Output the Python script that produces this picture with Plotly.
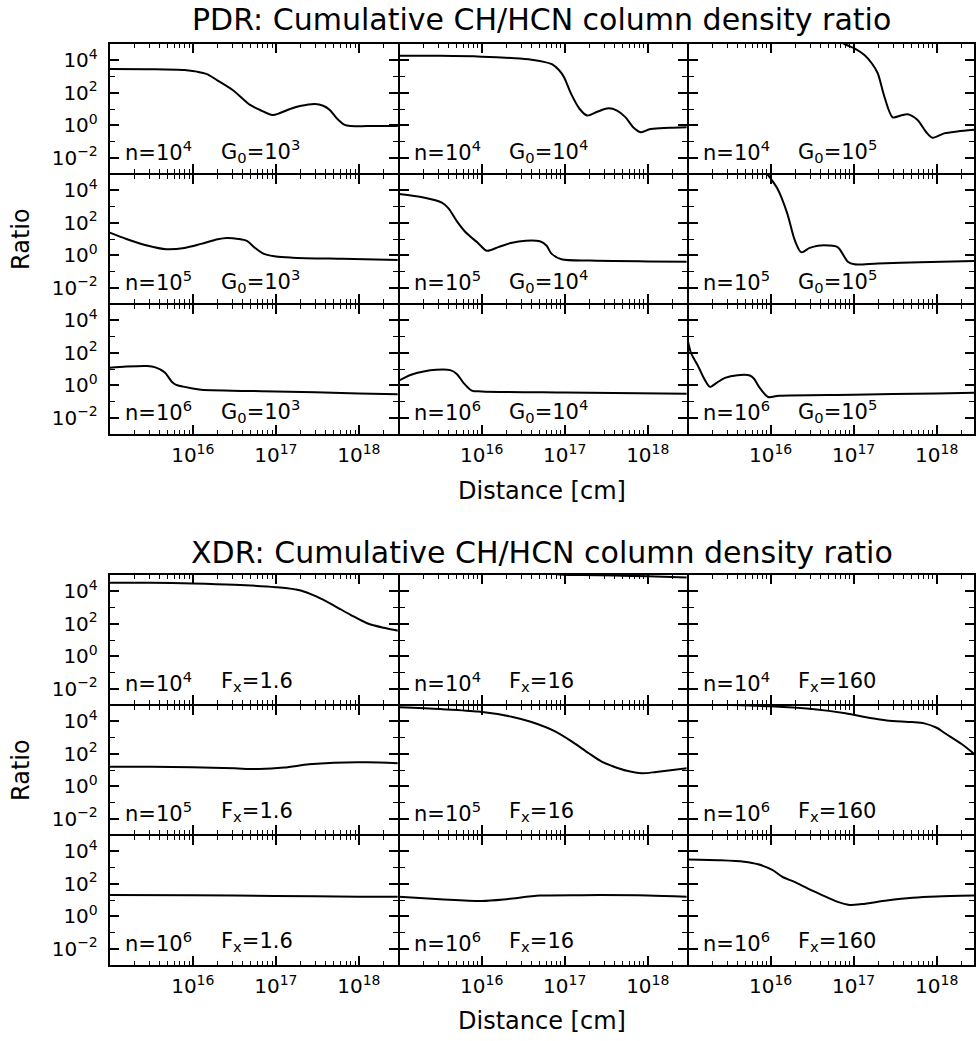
import numpy as np
import plotly.graph_objects as go

W, H = 976, 1041
FONT = "DejaVu Sans"

# ---------------- data (log10 distance [cm], log10 ratio) ----------------
# PDR models
pdr_n4_g3_logd = [15.0, 15.5, 15.9, 16.05, 16.17, 16.29, 16.48, 16.69, 16.81, 16.96, 17.05, 17.17, 17.29, 17.47, 17.57, 17.65, 17.73, 17.83, 17.9, 18.1, 18.48]
pdr_n4_g3_logr = [3.46, 3.45, 3.40, 3.3, 3.15, 2.78, 2.17, 1.25, 0.94, 0.63, 0.75, 1.0, 1.18, 1.31, 1.2, 0.94, 0.45, 0.02, -0.05, -0.05, -0.05]

pdr_n4_g4_logd = [15.0, 15.5, 16.0, 16.4, 16.6, 16.75, 16.85, 16.93, 16.99, 17.08, 17.18, 17.27, 17.4, 17.53, 17.63, 17.73, 17.83, 17.92, 18.02, 18.15, 18.3, 18.48]
pdr_n4_g4_logr = [4.28, 4.27, 4.22, 4.12, 4.03, 3.9, 3.75, 3.4, 2.97, 1.9, 1.0, 0.6, 0.85, 1.04, 0.9, 0.5, -0.15, -0.43, -0.25, -0.18, -0.15, -0.12]

pdr_n4_g5_logd = [15.0, 15.5, 16.0, 16.5, 16.89, 17.02, 17.13, 17.22, 17.29, 17.37, 17.47, 17.57, 17.65, 17.77, 17.87, 17.95, 18.09, 18.25, 18.45]
pdr_n4_g5_logr = [7.5, 7.2, 6.8, 6.0, 5.0, 4.7, 4.32, 3.8, 3.2, 1.76, 0.49, 0.6, 0.67, 0.32, -0.4, -0.77, -0.5, -0.38, -0.28]

pdr_n5_g3_logd = [15.0, 15.2, 15.45, 15.68, 15.9, 16.1, 16.3, 16.41, 16.55, 16.65, 16.75, 16.85, 17.0, 17.2, 17.8, 18.48]
pdr_n5_g3_logr = [1.39, 1.0, 0.6, 0.37, 0.45, 0.7, 0.98, 1.06, 1.0, 0.88, 0.45, 0.1, -0.08, -0.15, -0.22, -0.29]

pdr_n5_g4_logd = [15.0, 15.3, 15.52, 15.6, 15.7, 15.8, 15.96, 16.06, 16.2, 16.35, 16.53, 16.7, 16.78, 16.84, 16.96, 17.3, 18.0, 18.48]
pdr_n5_g4_logr = [3.77, 3.55, 3.24, 2.89, 2.1, 1.45, 0.73, 0.28, 0.5, 0.75, 0.9, 0.86, 0.6, 0.1, -0.25, -0.33, -0.38, -0.4]

pdr_n5_g5_logd = [15.0, 15.5, 15.8, 15.96, 16.08, 16.2, 16.29, 16.37, 16.47, 16.57, 16.7, 16.81, 16.93, 17.01, 17.29, 17.8, 18.45]
pdr_n5_g5_logr = [7.5, 7.0, 6.0, 5.0, 4.12, 2.58, 0.94, 0.18, 0.45, 0.59, 0.6, 0.49, -0.4, -0.56, -0.5, -0.43, -0.35]

pdr_n6_g3_logd = [15.0, 15.2, 15.45, 15.55, 15.66, 15.75, 15.8, 16.0, 16.1, 17.0, 18.0, 18.48]
pdr_n6_g3_logr = [1.08, 1.15, 1.18, 1.1, 0.8, 0.2, 0.02, -0.2, -0.27, -0.38, -0.5, -0.56]

pdr_n6_g4_logd = [15.0, 15.15, 15.3, 15.45, 15.62, 15.7, 15.78, 15.88, 16.0, 17.0, 18.48]
pdr_n6_g4_logr = [0.28, 0.65, 0.85, 0.95, 0.93, 0.7, 0.15, -0.33, -0.38, -0.45, -0.52]

pdr_n6_g5_logd = [15.0, 15.04, 15.08, 15.12, 15.2, 15.27, 15.35, 15.45, 15.6, 15.75, 15.8, 15.86, 15.97, 16.1, 17.0, 18.0, 18.45]
pdr_n6_g5_logr = [2.8, 2.0, 1.6, 1.25, 0.4, -0.1, 0.15, 0.45, 0.62, 0.6, 0.4, -0.1, -0.72, -0.64, -0.58, -0.5, -0.46]

# XDR models
xdr_n4_f1_logd = [15.0, 15.5, 16.0, 16.5, 17.0, 17.3, 17.5, 17.7, 17.9, 18.1, 18.3, 18.48]
xdr_n4_f1_logr = [4.53, 4.52, 4.48, 4.4, 4.25, 4.05, 3.65, 3.12, 2.55, 2.03, 1.75, 1.57]

xdr_n4_f16_logd = [15.0, 16.0, 16.7, 16.9, 17.2, 17.6, 18.0, 18.48]
xdr_n4_f16_logr = [6.0, 5.7, 5.3, 5.05, 5.0, 4.97, 4.92, 4.85]

xdr_n4_f160_logd = [15.0, 16.0, 17.0, 18.0, 18.45]
xdr_n4_f160_logr = [7.0, 6.9, 6.7, 6.4, 6.0]

xdr_n5_f1_logd = [15.0, 15.5, 16.0, 16.5, 16.8, 17.1, 17.4, 17.7, 18.1, 18.48]
xdr_n5_f1_logr = [1.2, 1.2, 1.17, 1.1, 1.06, 1.15, 1.35, 1.45, 1.47, 1.41]

xdr_n5_f16_logd = [15.0, 15.5, 15.96, 16.36, 16.6, 16.89, 17.1, 17.29, 17.45, 17.57, 17.75, 17.93, 18.1, 18.3, 18.48]
xdr_n5_f16_logr = [4.86, 4.75, 4.6, 4.28, 3.95, 3.36, 2.7, 2.03, 1.5, 1.25, 0.95, 0.8, 0.88, 1.0, 1.11]

xdr_n6_f160b_logd = [15.0, 15.5, 16.0, 16.5, 16.9, 17.2, 17.4, 17.7, 17.85, 18.0, 18.1, 18.3, 18.45]
xdr_n6_f160b_logr = [5.05, 5.0, 4.92, 4.75, 4.49, 4.2, 4.05, 3.95, 3.87, 3.6, 3.26, 2.6, 2.0]

xdr_n6_f1_logd = [15.0, 16.0, 17.0, 18.0, 18.48]
xdr_n6_f1_logr = [1.31, 1.3, 1.25, 1.2, 1.2]

xdr_n6_f16_logd = [15.0, 15.5, 16.0, 16.3, 16.7, 17.2, 18.0, 18.48]
xdr_n6_f16_logr = [1.2, 1.05, 0.94, 1.05, 1.27, 1.3, 1.28, 1.2]

xdr_n6_f160_logd = [15.0, 15.4, 15.68, 15.85, 16.02, 16.15, 16.28, 16.45, 16.6, 16.8, 16.95, 17.1, 17.4, 17.71, 18.0, 18.45]
xdr_n6_f160_logr = [3.5, 3.45, 3.36, 3.2, 2.85, 2.4, 2.13, 1.7, 1.35, 0.9, 0.7, 0.75, 0.97, 1.14, 1.22, 1.27]

# panel labels
pdr_n_labels = ["4", "4", "4", "5", "5", "5", "6", "6", "6"]
pdr_g_labels = ["3", "4", "5", "3", "4", "5", "3", "4", "5"]
xdr_n_labels = ["4", "4", "4", "5", "5", "6", "6", "6", "6"]
xdr_f_labels = ["1.6", "16", "160", "1.6", "16", "160", "1.6", "16", "160"]

panels = [
    (pdr_n4_g3_logd, pdr_n4_g3_logr), (pdr_n4_g4_logd, pdr_n4_g4_logr), (pdr_n4_g5_logd, pdr_n4_g5_logr),
    (pdr_n5_g3_logd, pdr_n5_g3_logr), (pdr_n5_g4_logd, pdr_n5_g4_logr), (pdr_n5_g5_logd, pdr_n5_g5_logr),
    (pdr_n6_g3_logd, pdr_n6_g3_logr), (pdr_n6_g4_logd, pdr_n6_g4_logr), (pdr_n6_g5_logd, pdr_n6_g5_logr),
    (xdr_n4_f1_logd, xdr_n4_f1_logr), (xdr_n4_f16_logd, xdr_n4_f16_logr), (xdr_n4_f160_logd, xdr_n4_f160_logr),
    (xdr_n5_f1_logd, xdr_n5_f1_logr), (xdr_n5_f16_logd, xdr_n5_f16_logr), (xdr_n6_f160b_logd, xdr_n6_f160b_logr),
    (xdr_n6_f1_logd, xdr_n6_f1_logr), (xdr_n6_f16_logd, xdr_n6_f16_logr), (xdr_n6_f160_logd, xdr_n6_f160_logr),
]

titles = ["PDR: Cumulative CH/HCN column density ratio", "XDR: Cumulative CH/HCN column density ratio"]

# ---------------- layout geometry ----------------
col_edges = [110, 399.5, 689, 978.5]
block_tops = [44, 575]
row_h = 130
DEC = 83.2
LW = 2  # axis line width; adjacent domains are separated by LW so shared borders coincide

x_major = [1e16, 1e17, 1e18]
x_minor = [k * 10.0 ** e for e in range(15, 19) for k in range(2, 10)]
y_major = [1e-2, 1e0, 1e2, 1e4]
y_major_txt = ["10<sup>\u22122</sup>", "10<sup>0</sup>", "10<sup>2</sup>", "10<sup>4</sup>"]
y_minor = [1e-1, 1e1, 1e3]

fig = go.Figure()
layout = dict(width=W, height=H, autosize=False, margin=dict(l=0, r=0, t=0, b=0),
              paper_bgcolor="white", plot_bgcolor="white", showlegend=False,
              font=dict(family=FONT, color="black"))
annotations = []

for b in range(2):
    for r in range(3):
        for c in range(3):
            k = b * 9 + r * 3 + c
            idx = k + 1
            sx = "" if idx == 1 else str(idx)
            x0 = col_edges[c] + (LW / 2 if c > 0 else 0)
            x1 = min(col_edges[c + 1] - (LW / 2 if c < 2 else 0), W)
            yt = block_tops[b] + r * row_h + (LW / 2 if r > 0 else 0)
            yb = block_tops[b] + (r + 1) * row_h - (LW / 2 if r < 2 else 0)
            xr0 = 15 + (x0 - col_edges[c]) / DEC
            xa = dict(type="log", domain=[x0 / W, x1 / W], range=[xr0, xr0 + (x1 - x0) / DEC],
                      anchor="y" + sx, showline=True, linecolor="black", linewidth=LW,
                      mirror="ticks", ticks="inside", ticklen=9, tickwidth=1.5, tickcolor="black",
                      tickmode="array", tickvals=x_major,
                      ticktext=["10<sup>16</sup>", "10<sup>17</sup>", "10<sup>18</sup>"],
                      showticklabels=(r == 2), showgrid=False, zeroline=False,
                      ticklabelstandoff=2,
                      tickfont=dict(family=FONT, size=20, color="black"),
                      minor=dict(tickmode="array", tickvals=x_minor, ticks="inside", ticklen=4,
                                 tickwidth=1, tickcolor="black", showgrid=False))
            dpy = row_h / 8.0
            ybot_full = block_tops[b] + (r + 1) * row_h
            yr0 = -3 + (ybot_full - yb) / dpy
            yr1 = yr0 + (yb - yt) / dpy
            ya = dict(type="log", domain=[1 - yb / H, 1 - yt / H], range=[yr0, yr1],
                      anchor="x" + sx, showline=True, linecolor="black", linewidth=LW,
                      mirror="ticks", ticks="inside", ticklen=9, tickwidth=1.5, tickcolor="black",
                      tickmode="array", tickvals=y_major, ticktext=y_major_txt,
                      showticklabels=(c == 0), showgrid=False, zeroline=False,
                      ticklabelstandoff=6,
                      tickfont=dict(family=FONT, size=20, color="black"),
                      minor=dict(tickmode="array", tickvals=y_minor, ticks="inside", ticklen=5,
                                 tickwidth=1, tickcolor="black", showgrid=False))
            layout["xaxis" + sx] = xa
            layout["yaxis" + sx] = ya

            logd, logr = panels[k]
            fig.add_trace(go.Scatter(
                x=10.0 ** np.array(logd), y=10.0 ** np.array(logr), mode="lines",
                line=dict(color="black", width=2, shape="spline", smoothing=0.8),
                xaxis="x" + sx, yaxis="y" + sx, hoverinfo="skip"))

            # panel labels (placed in paper pixels)
            if b == 0:
                nl = "n=10<sup>%s</sup>" % pdr_n_labels[k]
                pl = "G<sub>0</sub>=10<sup>%s</sup>" % pdr_g_labels[k]
            else:
                nl = "n=10<sup>%s</sup>" % xdr_n_labels[k - 9]
                pl = "F<sub>x</sub>=%s" % xdr_f_labels[k - 9]
            ylab = block_tops[b] + r * row_h + 107
            for txt, off in ((nl, 13), (pl, 109)):
                annotations.append(dict(text=txt, xref="paper", yref="paper",
                                        x=(col_edges[c] + off) / W, y=1 - ylab / H,
                                        xanchor="left", yanchor="middle",
                                        showarrow=False, font=dict(family=FONT, size=21, color="black")))

# titles and axis titles
title_y = [20, 552]
dist_y = [491, 1021]
for b in range(2):
    annotations.append(dict(text=titles[b], xref="paper", yref="paper", x=543 / W, y=1 - title_y[b] / H,
                            xanchor="center", yanchor="middle", showarrow=False,
                            font=dict(family=FONT, size=30, color="black")))
    annotations.append(dict(text="Distance [cm]", xref="paper", yref="paper", x=543 / W, y=1 - dist_y[b] / H,
                            xanchor="center", yanchor="middle", showarrow=False,
                            font=dict(family=FONT, size=24, color="black")))
    annotations.append(dict(text="Ratio", xref="paper", yref="paper", x=21 / W,
                            y=1 - (block_tops[b] + 1.5 * row_h) / H, textangle=-90,
                            xanchor="center", yanchor="middle", showarrow=False,
                            font=dict(family=FONT, size=24, color="black")))

layout["annotations"] = annotations
fig.update_layout(**layout)
fig.write_html("out.html",
               config={"displayModeBar": False},
               post_script="document.body.style.margin='0';document.body.style.overflow='hidden';")
